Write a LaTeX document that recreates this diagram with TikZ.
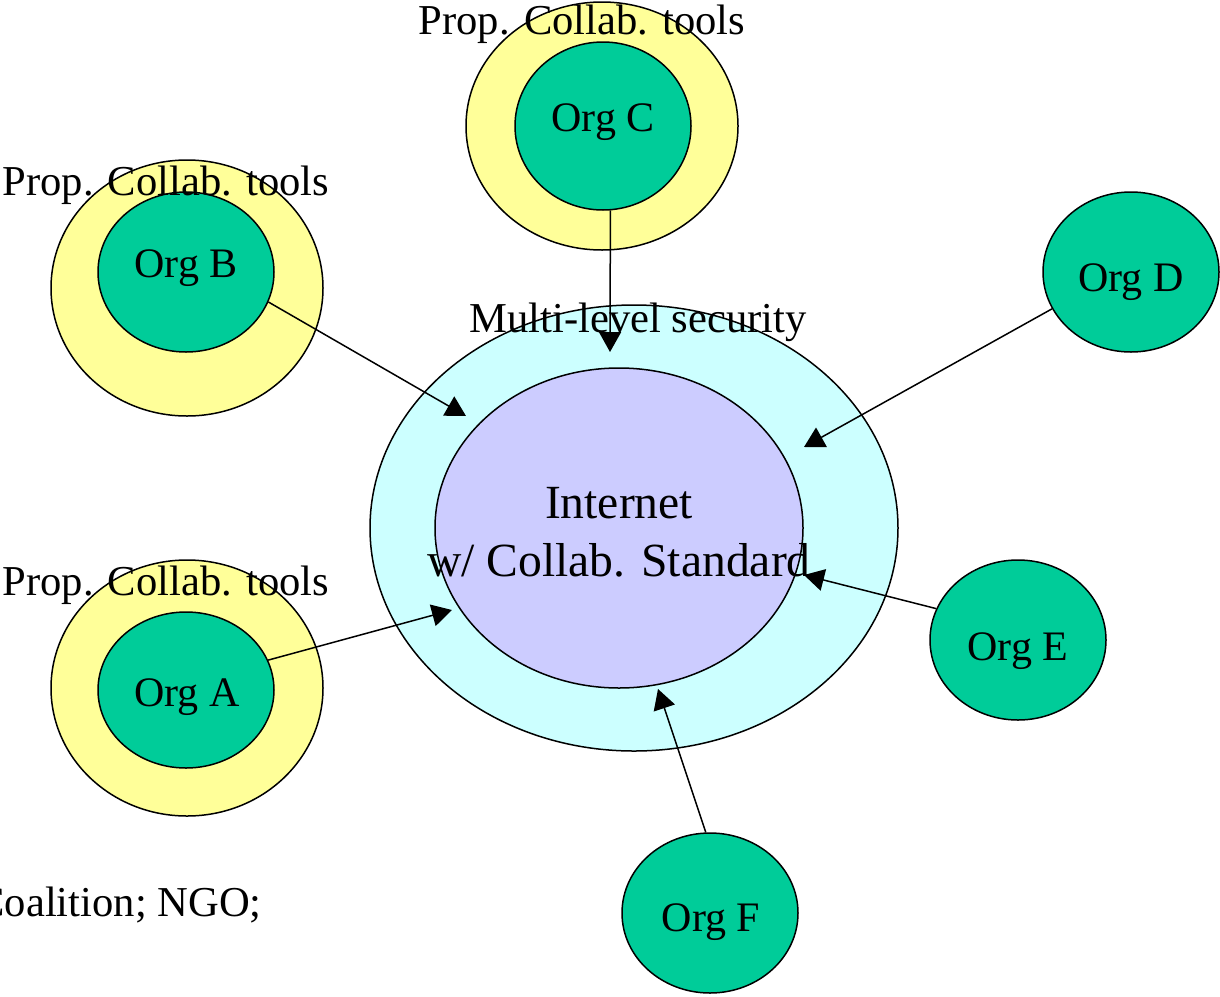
\documentclass[tikz,border=0pt]{standalone}
\usepackage{fontspec}
\setmainfont{Liberation Serif}
\usetikzlibrary{shapes.geometric,arrows.meta}
\definecolor{orggreen}{HTML}{00CC99}
\definecolor{propyellow}{HTML}{FFFF99}
\definecolor{mlscyan}{HTML}{CCFFFF}
\definecolor{netlav}{HTML}{CCCCFF}
\tikzset{
  ell/.style={ellipse, draw=black, line width=0.75pt, inner sep=0pt},
  org/.style={ell, fill=orggreen, minimum width=88pt, minimum height=80pt},
  orgtxt/.style={font=\fontsize{21}{25}\selectfont, inner sep=0pt},
  prop/.style={ell, fill=propyellow, minimum width=136pt, minimum height=128pt},
  lbl/.style={font=\fontsize{21.3}{25}\selectfont, inner sep=0pt},
  conn/.style={line width=0.75pt, -{Triangle[length=10pt,width=11pt]}}
}
\begin{document}
\begin{tikzpicture}[x=0.5pt,y=-0.5pt]
\useasboundingbox (0,0) rectangle (1220,996);
% central
\node[ell, fill=mlscyan, minimum width=264pt, minimum height=223pt] (mls) at (634,528) {};
\node[ell, fill=netlav, minimum width=184pt, minimum height=160pt] (net) at (619,528) {};
\node[align=center, inner sep=0pt, font=\fontsize{23.8}{29}\selectfont] (nettxt) at (619,532) {Internet\\w/ Collab. Standard};
% proprietary tool rings
\node[prop, minimum height=124pt] (propC) at (602,126) {};
\node[prop] (propB) at (187,288) {};
\node[prop] (propA) at (187,688) {};
% orgs
\node[org, minimum height=84pt] (orgC) at (603,126) {};
\node[org] (orgB) at (186,272) {};
\node[org, minimum height=78pt] (orgA) at (186,690) {};
\node[org] (orgD) at (1131,272) {};
\node[org] (orgE) at (1018,640) {};
\node[org] (orgF) at (710,913) {};
\node[orgtxt] (tOrgC) at (603,122) {Org C};
\node[orgtxt] (tOrgB) at (186,268) {Org B};
\node[orgtxt] (tOrgA) at (187,697) {Org A};
\node[orgtxt] (tOrgD) at (1131,282) {Org D};
\node[orgtxt] (tOrgE) at (1018,651) {Org E};
\node[orgtxt] (tOrgF) at (711,922) {Org F};
% labels
\node[lbl] (lC) at (582,24) {Prop. Collab. tools};
\node[lbl] (lB) at (166,185) {Prop. Collab. tools};
\node[lbl] (lA) at (166,585) {Prop. Collab. tools};
\node[lbl] (lM) at (638,322) {Multi-level security};
\node[lbl, anchor=east] (coal) at (262,905) {Coalition; NGO;};
% arrow tips
\coordinate (tC) at (610,352);
\coordinate (tB) at (466,416);
\coordinate (tA) at (452,610);
\coordinate (tD) at (804,447);
\coordinate (tE) at (804,575);
\coordinate (tF) at (658,689);
\draw[conn] (orgC.-85) -- (tC);
\draw[conn] (orgB.-20) -- (tB);
\draw[conn] (orgA.20) -- (tA);
\draw[conn] (orgD.205) -- (tD);
\draw[conn] (orgE.159) -- (tE);
\draw[conn] (orgF.93) -- (tF);
\end{tikzpicture}
\end{document}
